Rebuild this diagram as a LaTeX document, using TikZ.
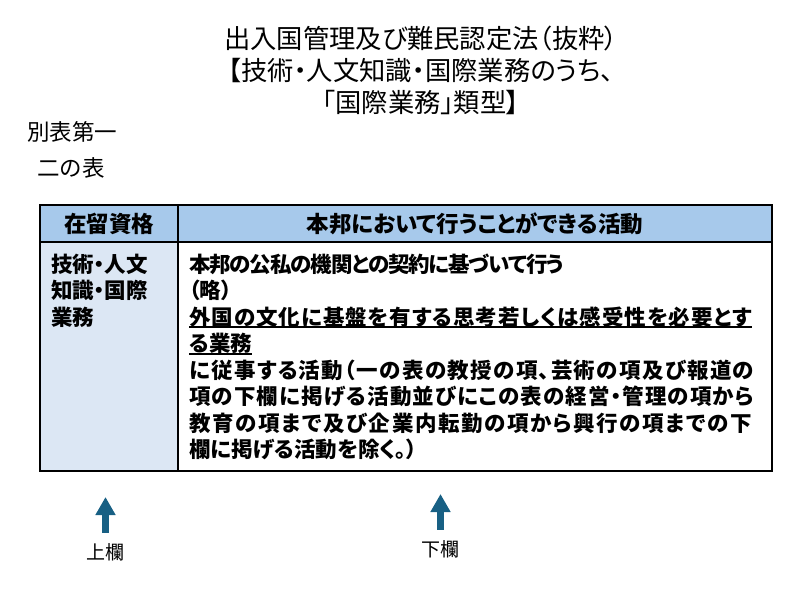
\documentclass[tikz,border=0pt]{standalone}
\usepackage{fontspec}
\setmainfont{Noto Sans CJK JP}
\newfontfamily\jpprop[CharacterWidth=AlternateProportional]{Noto Sans CJK JP}
\usetikzlibrary{arrows.meta,positioning}

\definecolor{headblue}{RGB}{167,201,235}
\definecolor{cellblue}{RGB}{220,231,244}
\definecolor{arrowteal}{RGB}{24,96,132}

% set one line of text to a fixed width
\newcommand\spreadline[2]{\hbox to #1{\spreadchar#2\relax\unskip}}
\def\spreadchar#1{\ifx#1\relax\else#1\hskip 0pt plus 1fil minus 1fil\relax\expandafter\spreadchar\fi}

\tikzset{
    titletext/.style={align=center, inner sep=0pt, font=\jpprop\fontsize{26.3}{32}\selectfont},
    tabletitle/.style={anchor=base west, inner sep=0pt, font=\fontsize{22.5}{26}\selectfont},
    headtext/.style={anchor=base, inner sep=0pt, font=\jpprop\bfseries\fontsize{22.5}{26}\selectfont},
    bodytext/.style={anchor=base west, inner sep=0pt, font=\jpprop\bfseries\fontsize{21.5}{26}\selectfont},
    uline/.style={line width=1.6pt},
    grid/.style={line width=1.2pt, black},
    colname/.style={anchor=base, inner sep=0pt, font=\fontsize{19}{22}\selectfont},
    colarrow/.style={line width=6.7pt, arrowteal, shorten <=10pt, -{Triangle[length=18pt,width=19pt]}}
}

\begin{document}
\begin{tikzpicture}[x=1pt, y=-1pt]
                        \useasboundingbox (0,0) rectangle (800,600);
                        \node[titletext] (title) at (421,70) {出入国管理及び難民認定法（抜粋）\\【技術・人文知識・国際業務のうち、\\「国際業務」類型】};
                        \node[tabletitle] (bettable) at (27,140.5) {別表第一};
                        \node[tabletitle] (nitable) at (37,176.5) {二の表};
                        % table
                        \fill[headblue] (40,205) rectangle (772,242);
                        \fill[cellblue] (40,242) rectangle (178,471);
                        \draw[grid] (40,205) rectangle (772,471);
                        \draw[grid] (40,242) -- (772,242);
                        \draw[grid] (178,205) -- (178,471);
                        \node[headtext] (hq) at (109,232.5) {在留資格};
                        \node[headtext] (ha) at (475,232.5) {本邦において行うことができる活動};
                        \node[bodytext] (q1) at (51,272.2) {技術・人文};
                        \node[bodytext] (q2) at (51,298.7) {知識・国際};
                        \node[bodytext] (q3) at (51,325.2) {業務};
                        \node[bodytext] (b1) at (189,272.2) {\spreadline{375pt}{本邦の公私の機関との契約に基づいて行う}};
                        \node[bodytext] (b2) at (189,298.7) {（略）};
                        \node[bodytext] (b3) at (189,325.2) {\spreadline{563pt}{外国の文化に基盤を有する思考若しくは感受性を必要とす}};
                        \node[bodytext] (b4) at (189,351.7) {る業務};
                        \node[bodytext] (b5) at (189,378.2) {\spreadline{565pt}{に従事する活動（一の表の教授の項、芸術の項及び報道の}};
                        \node[bodytext] (b6) at (189,404.7) {\spreadline{565pt}{項の下欄に掲げる活動並びにこの表の経営・管理の項から}};
                        \node[bodytext] (b7) at (189,431.2) {\spreadline{563pt}{教育の項まで及び企業内転勤の項から興行の項までの下}};
                        \node[bodytext] (b8) at (189,457.7) {欄に掲げる活動を除く。）};
                        \draw[uline] ([yshift=-2pt]b3.base west) -- ([yshift=-2pt]b3.base east);
                        \draw[uline] ([yshift=-2pt]b4.base west) -- ([yshift=-2pt]b4.base east);
                        % column names
                        \node[colname] (ue) at (105.5,559) {上欄};
                        \node[colname] (shita) at (440.5,556) {下欄};
                        \coordinate (uetip) at (105.5,497);
                        \coordinate (shitatip) at (440.5,494);
                        \draw[colarrow] (ue) -- (uetip);
                        \draw[colarrow] (shita) -- (shitatip);
                    \end{tikzpicture}
\end{document}
